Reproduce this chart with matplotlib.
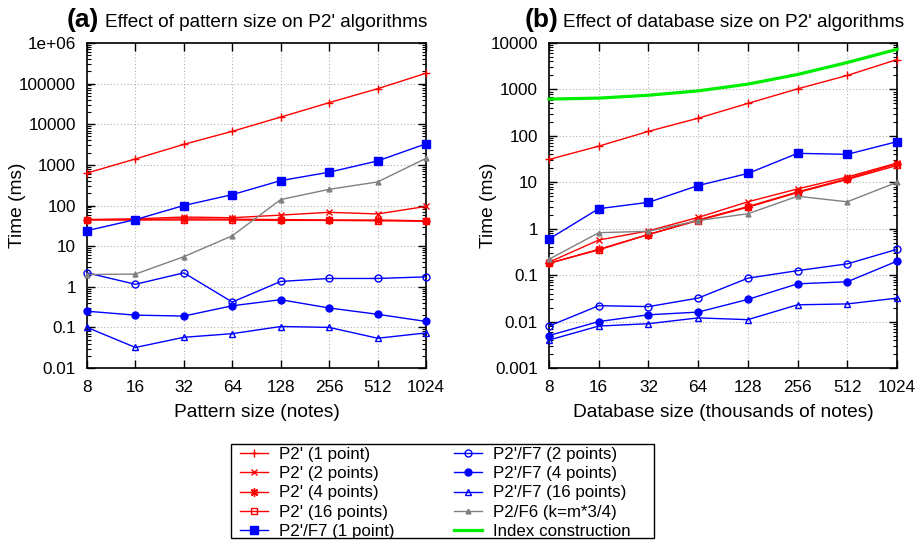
import numpy as np
import matplotlib
matplotlib.use("Agg")
import matplotlib.pyplot as plt
from matplotlib.patches import Rectangle
from matplotlib.ticker import FixedLocator, LogLocator, NullFormatter, NullLocator

plt.rcParams['font.family'] = ['Liberation Sans', 'DejaVu Sans']

sizes = [8, 16, 32, 64, 128, 256, 512, 1024]
size_labels = ['8', '16', '32', '64', '128', '256', '512', '1024']

# (a) pattern size
a_p2_1 = [630, 1400, 3200, 6700, 15000, 34000, 75000, 180000]
a_p2_2 = [45, 47, 52, 50, 58, 68, 62, 95]
a_p2_4 = [45, 45, 47, 46, 45, 44, 44, 42]
a_p2_16 = [44, 44, 44, 44, 43, 43, 42, 41]
a_f7_1 = [24, 45, 100, 185, 410, 660, 1250, 3300]
a_f7_2 = [2.2, 1.15, 2.2, 0.42, 1.35, 1.6, 1.6, 1.75]
a_f7_4 = [0.25, 0.2, 0.19, 0.34, 0.48, 0.3, 0.21, 0.14]
a_f7_16 = [0.1, 0.032, 0.057, 0.07, 0.105, 0.1, 0.054, 0.073]
a_f6 = [2.0, 2.05, 5.5, 18, 140, 250, 380, 1450]

# (b) database size
b_p2_1 = [31, 60, 125, 240, 500, 1030, 2000, 4400]
b_p2_2 = [0.19, 0.57, 0.9, 1.75, 3.8, 7.2, 13, 26]
b_p2_4 = [0.18, 0.36, 0.75, 1.55, 3.0, 6.2, 12, 25]
b_p2_16 = [0.18, 0.35, 0.75, 1.5, 2.9, 6.0, 11.5, 23]
b_f7_1 = [0.6, 2.7, 3.7, 8.5, 15.5, 42, 40, 75]
b_f7_2 = [0.008, 0.022, 0.021, 0.032, 0.086, 0.125, 0.175, 0.36]
b_f7_4 = [0.005, 0.01, 0.014, 0.016, 0.03, 0.065, 0.072, 0.2]
b_f7_16 = [0.004, 0.008, 0.009, 0.012, 0.011, 0.023, 0.024, 0.032]
b_f6 = [0.22, 0.82, 0.88, 1.5, 2.1, 5.0, 3.8, 10]
b_index = [620, 650, 750, 930, 1300, 2100, 3800, 7300]

labels = ["P2' (1 point)", "P2' (2 points)", "P2' (4 points)", "P2' (16 points)",
          "P2'/F7 (1 point)", "P2'/F7 (2 points)", "P2'/F7 (4 points)",
          "P2'/F7 (16 points)", "P2/F6 (k=m*3/4)", "Index construction"]

styles = [
    dict(color='#ff0000', marker='+', ms=6, mew=1),
    dict(color='#ff0000', marker='x', ms=5, mew=1),
    dict(color='#ff0000', marker=(8, 2, 0), ms=6, mew=1),
    dict(color='#ff0000', marker='s', ms=5, mfc='none', mew=1),
    dict(color='#0000ff', marker='s', ms=5.5, mew=1),
    dict(color='#0000ff', marker='o', ms=5, mfc='none', mew=1),
    dict(color='#0000ff', marker='o', ms=5, mew=1),
    dict(color='#0000ff', marker='^', ms=5, mfc='none', mew=1),
    dict(color='#808080', marker='^', ms=3.5, mew=1),
    dict(color='#00ee00', marker=None, lw=2.3),
]

fig = plt.figure(figsize=(9.23, 5.43), dpi=100)
ax1 = fig.add_axes([87 / 923, 1 - 368 / 543, 339 / 923, 325 / 543])
ax2 = fig.add_axes([549 / 923, 1 - 368 / 543, 348 / 923, 325 / 543])

series_a = [a_p2_1, a_p2_2, a_p2_4, a_p2_16, a_f7_1, a_f7_2, a_f7_4, a_f7_16, a_f6]
series_b = [b_p2_1, b_p2_2, b_p2_4, b_p2_16, b_f7_1, b_f7_2, b_f7_4, b_f7_16, b_f6, b_index]

handles = []
for i, ys in enumerate(series_a):
    st = dict(styles[i])
    st.setdefault('lw', 1)
    ax1.plot(sizes, ys, clip_on=False, zorder=3, **st)
for i, ys in enumerate(series_b):
    st = dict(styles[i])
    st.setdefault('lw', 1)
    h, = ax2.plot(sizes, ys, clip_on=False, zorder=3, label=labels[i], **st)
    handles.append(h)

def style_axis(ax, ylo, yhi, ylabels, xlabel):
    ax.set_xscale('log', base=2)
    ax.set_yscale('log')
    ax.set_xlim(8, 1024)
    ax.set_ylim(ylo, yhi)
    ax.xaxis.set_major_locator(FixedLocator(sizes))
    ax.set_xticklabels(size_labels)
    ax.xaxis.set_minor_locator(NullLocator())
    decades = [10.0 ** k for k in range(int(np.log10(ylo)), int(np.log10(yhi)) + 1)]
    ax.yaxis.set_major_locator(FixedLocator(decades))
    ax.set_yticklabels(ylabels)
    ax.yaxis.set_minor_locator(LogLocator(base=10, subs=np.arange(2, 10)))
    ax.yaxis.set_minor_formatter(NullFormatter())
    ax.tick_params(which='both', direction='in', top=True, right=True, labelsize=12.3)
    ax.tick_params(which='major', length=6, width=1)
    ax.tick_params(which='minor', length=3, width=0.8)
    ax.tick_params(axis='x', pad=9)
    ax.tick_params(axis='y', pad=8)
    ax.grid(True, which='major', color='#b0b0b0', linestyle=(0, (1, 2)), linewidth=0.8)
    for s in ax.spines.values():
        s.set_linewidth(1.2)
    ax.set_xlabel(xlabel, fontsize=13.8, labelpad=6)
    ax.set_ylabel('Time (ms)', fontsize=13.8)

style_axis(ax1, 0.01, 1e6,
           ['0.01', '0.1', '1', '10', '100', '1000', '10000', '100000', '1e+06'],
           'Pattern size (notes)')
style_axis(ax2, 0.001, 1e4,
           ['0.001', '0.01', '0.1', '1', '10', '100', '1000', '10000'],
           'Database size (thousands of notes)')
ax1.yaxis.set_label_coords(-0.18, 0.5)
ax2.yaxis.set_label_coords(-0.15, 0.5)

fig.text(99 / 923, 1 - 27 / 543, '(a)', fontsize=19, fontweight='bold', ha='right', va='baseline')
fig.text(105 / 923, 1 - 27 / 543, "Effect of pattern size on P2' algorithms", fontsize=13.7, ha='left', va='baseline')
fig.text(558 / 923, 1 - 27 / 543, '(b)', fontsize=19, fontweight='bold', ha='right', va='baseline')
fig.text(563 / 923, 1 - 27 / 543, "Effect of database size on P2' algorithms", fontsize=13.7, ha='left', va='baseline')

# gnuplot-style key box (wider than the entries)
fig.patches.append(Rectangle((231 / 923, 1 - 538 / 543), 423 / 923, 94 / 543,
                             transform=fig.transFigure, fill=False,
                             edgecolor='black', linewidth=1.0))
leg = fig.legend(handles=handles, ncol=2, loc='upper left',
                 bbox_to_anchor=(240 / 923, 1 - 447 / 543),
                 fontsize=12.2, frameon=False,
                 numpoints=1, handlelength=1.65, handletextpad=0.65,
                 columnspacing=3.5, labelspacing=0.25, borderpad=0,
                 borderaxespad=0)

fig.savefig('out.png', dpi=100)
